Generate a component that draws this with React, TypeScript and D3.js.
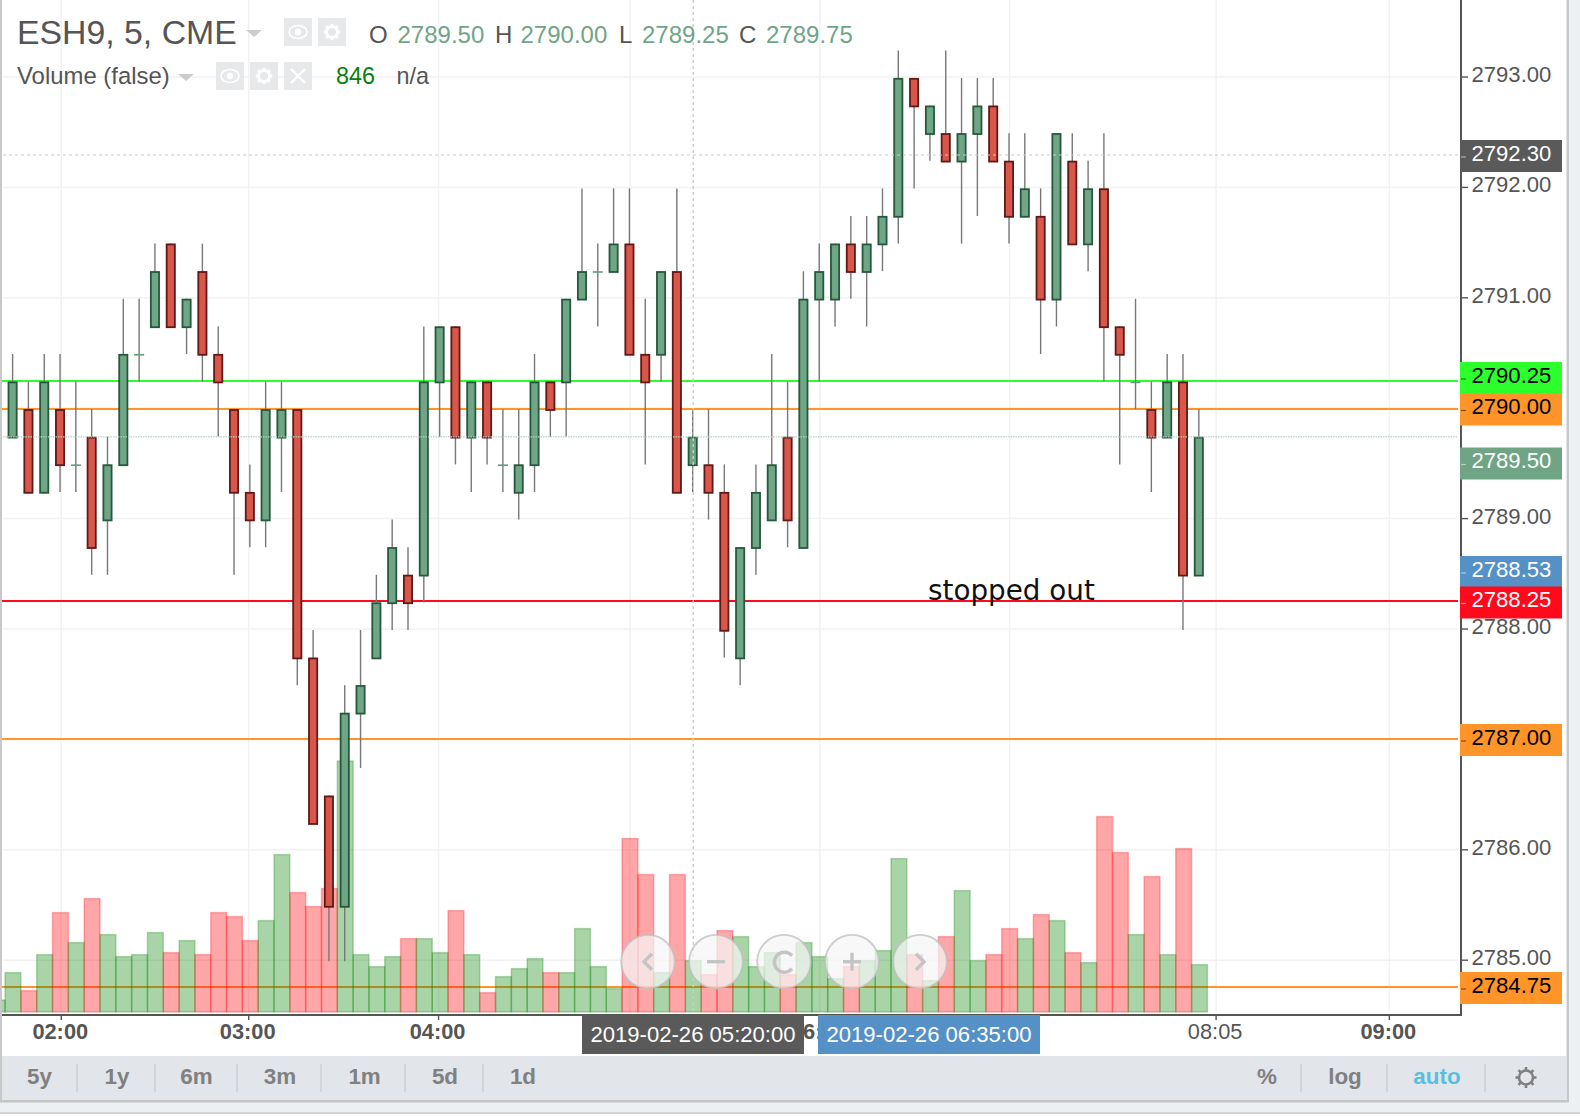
import React from "react";
import * as d3 from "d3";

const opens = [2789.75,2790,2789.25,2790,2789.5,2789.75,2789,2789.5,2790.5,2790.75,2791.5,2790.75,2791.25,2790.5,2790,2789.25,2789,2789.75,2790,2787.75,2786.5,2785.5,2787.25,2787.75,2788.25,2788.5,2788.5,2790.25,2790.75,2789.75,2790.25,2789.5,2789.25,2789.5,2790.25,2790.25,2791,2791.25,2791.25,2791.5,2790.5,2790.5,2791.25,2789.5,2789.5,2789.25,2787.75,2788.75,2789,2789.75,2788.75,2791,2791,2791.5,2791.25,2791.5,2791.75,2793,2792.5,2792.5,2792.25,2792.5,2792.75,2792.25,2791.75,2791.75,2791,2792.25,2791.5,2792,2790.75,2790.25,2790,2789.75,2790.25,2788.5];
const highs = [2790.5,2790.25,2790.5,2790.5,2790.25,2790,2789.75,2791,2791,2791.5,2791.5,2791,2791.5,2790.75,2790,2789.5,2790.25,2790.25,2790,2788,2786.5,2787.5,2788,2788.5,2789,2788.75,2790.75,2790.75,2790.75,2790.25,2790.25,2790,2790,2790.5,2790.25,2791,2792,2791.5,2792,2792,2791,2791.25,2792,2790,2790,2789.5,2788.75,2789.5,2790.5,2790.25,2791.25,2791.5,2791.5,2791.75,2791.75,2792,2793.25,2793,2792.75,2793.25,2793,2793,2793,2792.5,2792.5,2792,2792.5,2792.5,2792.25,2792.5,2790.75,2791,2790.25,2790.5,2790.5,2790];
const lows = [2789.75,2789.25,2789.25,2789.25,2789.25,2788.5,2788.5,2789.5,2790.25,2790.75,2790.75,2790.5,2790.25,2789.75,2788.5,2788.75,2788.75,2789.25,2787.5,2786.25,2785,2785,2786.75,2787.75,2788,2788,2788.25,2789.75,2789.5,2789.25,2789.5,2789.25,2789,2789.25,2789.75,2789.75,2791,2790.75,2791.25,2790.5,2789.5,2790.25,2789.25,2789.25,2789,2787.75,2787.5,2788.5,2789,2788.75,2788.75,2790.25,2790.75,2791,2790.75,2791.25,2791.5,2792,2792.25,2792.25,2791.5,2791.75,2792.25,2791.5,2791.75,2790.5,2790.75,2791.5,2791.25,2790.25,2789.5,2790,2789.25,2789.75,2788,2788.5];
const closes = [2790.25,2789.25,2790.25,2789.5,2789.5,2788.75,2789.5,2790.5,2790.5,2791.25,2790.75,2791,2790.5,2790.25,2789.25,2789,2790,2790,2787.75,2786.25,2785.5,2787.25,2787.5,2788.25,2788.75,2788.25,2790.25,2790.75,2789.75,2790.25,2789.75,2789.5,2789.5,2790.25,2790,2791,2791.25,2791.25,2791.5,2790.5,2790.25,2791.25,2789.25,2789.75,2789.25,2788,2788.75,2789.25,2789.5,2789,2791,2791.25,2791.5,2791.25,2791.5,2791.75,2793,2792.75,2792.75,2792.25,2792.5,2792.75,2792.25,2791.75,2792,2791,2792.5,2791.5,2792,2790.75,2790.5,2790.25,2789.75,2790.25,2788.5,2789.75];
const volumes = [649,352,946,1639,1144,1870,1276,913,946,1309,979,1177,946,1639,1573,1177,1507,2596,1969,1738,2035,4140,946,748,913,1210,1210,979,1672,946,319,583,715,880,649,649,1375,748,385,2860,2266,649,2266,846,616,1342,1243,748,979,616,1144,913,550,748,847,1012,2530,946,517,1243,2002,847,946,1375,1210,1606,1507,979,814,3223,2629,1276,2233,946,2695,781];
const previousVolume = 198;

const priceTicks = [2793, 2792, 2791, 2790, 2789, 2788, 2787, 2786, 2785];
const plainPriceTicks = [2793, 2792, 2791, 2789, 2788, 2786, 2785];
const timeTickBars = [3.05, 14.9, 26.9, 39, 51, 63, 76.05, 87];
const timeTickLabels = ["02:00", "03:00", "04:00", "", "06:00", "", "08:05", "09:00"];
const levelPrices = [2790.25, 2790, 2788.25, 2787, 2784.75];
const levelColors = ["#2cff2c", "#ff9528", "#ff0a1c", "#ff9528", "#ff9528"];

const priceBadges = [
  { text: "2792.30", mid: 156, bg: "#5a5a5a", fg: "#fff" },
  { text: "2790.25", mid: 378, bg: "#2cff2c", fg: "#000" },
  { text: "2790.00", mid: 409.5, bg: "#ff9528", fg: "#000" },
  { text: "2789.50", mid: 463.5, bg: "#6fa585", fg: "#fff" },
  { text: "2788.53", mid: 572, bg: "#5591c6", fg: "#fff" },
  { text: "2788.25", mid: 602.5, bg: "#ff0a1c", fg: "#fff" },
  { text: "2787.00", mid: 740, bg: "#ff9528", fg: "#000" },
  { text: "2784.75", mid: 988, bg: "#ff9528", fg: "#000" },
];
const rangeLabels = ["5y", "1y", "6m", "3m", "1m", "5d", "1d"];
const rangeCenters = [39.5, 117, 196.5, 280, 364.6, 445, 523];
const rangeSeparators = [77, 155, 237, 321, 405, 483];
const readoutLabels = [
  { t: "O", x: 369, c: "#555" }, { t: "2789.50", x: 397.5, c: "#6fa585" },
  { t: "H", x: 495, c: "#555" }, { t: "2790.00", x: 520.5, c: "#6fa585" },
  { t: "L", x: 619, c: "#555" }, { t: "2789.25", x: 642, c: "#6fa585" },
  { t: "C", x: 739, c: "#555" }, { t: "2789.75", x: 766, c: "#6fa585" },
];

const FONT = '"Liberation Sans", Arial, Helvetica, sans-serif';
const plotLeft = 2, plotRight = 1458, axisX = 1461, axisY = 1015, volBase = 1012;

const x = d3.scaleLinear().domain([0, 75]).range([13, 1199.5]);
const xCandle = d3.scaleLinear().domain([0, 75]).range([12.6, 1198.8]);
const y = d3.scaleLinear().domain([2793, 2788]).range([77, 629]);
const yLevel = d3.scaleLinear().domain([2790.25, 2784.75]).range([381, 987]);
const yWick = d3.scaleLinear().domain([2793, 2788]).range([78, 630]);
const yBody = d3.scaleLinear().domain([2793, 2788]).range([78.8, 630.8]);
const yVol = d3.scaleLinear().domain([0, 846]).range([volBase, volBase - 51.3]);
const step = x(1) - x(0);

function Gear({ cx, cy, r, color, sw }: { cx: number; cy: number; r: number; color: string; sw: number }) {
  const angles = d3.range(8).map((k) => (k * Math.PI) / 4);
  return (
    <g>
      {angles.map((a, k) => (
        <line key={k} x1={cx + Math.cos(a) * r} y1={cy + Math.sin(a) * r} x2={cx + Math.cos(a) * (r * 1.5)} y2={cy + Math.sin(a) * (r * 1.5)} stroke={color} strokeWidth={sw} />
      ))}
      <circle cx={cx} cy={cy} r={r} fill="none" stroke={color} strokeWidth={sw} />
    </g>
  );
}

function IconBox({ x0, y0, kind }: { x0: number; y0: number; kind: "eye" | "gear" | "x" }) {
  const cx = x0 + 14, cy = y0 + 14;
  return (
    <g>
      <rect x={x0} y={y0} width={28} height={28} fill="#e6e8ea" />
      {kind === "eye" && (
        <g>
          <ellipse cx={cx} cy={cy} rx={9} ry={6.5} fill="none" stroke="#fff" strokeWidth={1.6} />
          <circle cx={cx} cy={cy} r={3.2} fill="#fff" />
        </g>
      )}
      {kind === "gear" && <Gear cx={cx} cy={cy} r={5.5} color="#fff" sw={3} />}
      {kind === "x" && (
        <g stroke="#fff" strokeWidth={2.4}>
          <line x1={cx - 7} y1={cy - 7} x2={cx + 7} y2={cy + 7} />
          <line x1={cx + 7} y1={cy - 7} x2={cx - 7} y2={cy + 7} />
        </g>
      )}
    </g>
  );
}

export default function App() {
  const volumeRows = [
    { i: -1, v: previousVolume, up: true },
    ...volumes.map((v, i) => ({ i, v, up: closes[i] >= opens[i] })),
  ];
  const zoomCenters = [648, 716, 784, 852, 920];
  const zoomY = 961.7;
  const glyph = "#c4c4c4";

  return (
    <svg width={1580} height={1116} style={{ position: "absolute", left: 0, top: 0, display: "block" }} fontFamily={FONT}>
      <defs>
        <clipPath id="plot"><rect x={plotLeft} y={0} width={plotRight - plotLeft} height={volBase + 1} /></clipPath>
      </defs>
      <rect width={1580} height={1116} fill="#fff" />

      {/* outer frame */}
      <rect x={1569} y={0} width={11} height={1112} fill="#ecf0f3" />
      <rect x={0} y={1102} width={1580} height={10} fill="#ecf0f3" />
      <rect x={0} y={0} width={2} height={1102} fill="#c8c8c8" />
      <rect x={1566.5} y={0} width={2.5} height={1102} fill="#c8c8c8" />
      <rect x={0} y={1100} width={1569} height={2.5} fill="#c4c4c4" />
      <rect x={0} y={1112} width={1580} height={2} fill="#d4d4d4" />

      {/* grid */}
      <g stroke="#f2f2f2" strokeWidth={1.5}>
        {priceTicks.map((p) => <line key={p} x1={3} x2={plotRight} y1={y(p)} y2={y(p)} />)}
        {timeTickBars.map((b) => <line key={b} x1={x(b)} x2={x(b)} y1={0} y2={volBase} />)}
      </g>

      {/* levels */}
      {levelPrices.map((p, k) => {
        const ly = Math.round(yLevel(p));
        return <line key={p} x1={plotLeft} x2={plotRight} y1={ly} y2={ly} stroke={levelColors[k]} strokeWidth={1.8} />;
      })}

      {/* volume */}
      <g clipPath="url(#plot)">
        {volumeRows.map((d) => (
          <rect key={d.i} x={x(d.i) - step / 2} y={yVol(d.v)} width={step} height={volBase - yVol(d.v)}
            fill={d.up ? "rgba(0,128,0,0.34)" : "rgba(255,0,10,0.35)"}
            stroke={d.up ? "rgba(0,128,0,0.28)" : "rgba(255,0,10,0.28)"} strokeWidth={1.5} />
        ))}
      </g>

      {/* candles */}
      {opens.map((o, i) => {
        const c = closes[i];
        const up = c >= o;
        const doji = c === o;
        const top = yBody(Math.max(o, c));
        const bottom = yBody(Math.min(o, c));
        const cx = xCandle(i);
        return (
          <g key={i}>
            <line x1={cx} x2={cx} y1={yWick(highs[i])} y2={yWick(lows[i])} stroke="#777" strokeWidth={1.4} />
            {doji ? (
              <line x1={cx - 5} x2={cx + 5} y1={top} y2={top} stroke="#5f9c7c" strokeWidth={1.6} />
            ) : (
              <rect x={cx - 4.1} y={top} width={8.2} height={bottom - top}
                fill={up ? "#6fa685" : "#d8564a"} stroke={up ? "#27583e" : "#5e1a17"} strokeWidth={1.8} />
            )}
          </g>
        );
      })}

      {/* crosshair and last price guides */}
      <line x1={3} x2={plotRight} y1={155} y2={155} stroke="#ccc" strokeWidth={1.2} strokeDasharray="3 3" />
      <line x1={3} x2={plotRight} y1={yWick(closes[75])} y2={yWick(closes[75])} stroke="#b7cfc1" strokeWidth={1.2} strokeDasharray="1.5 1" />
      <line x1={x(43)} x2={x(43)} y1={0} y2={volBase} stroke="#ccc" strokeWidth={1.4} strokeDasharray="3 3" />

      {/* annotation */}
      <text x={928} y={599.5} fontFamily='"DejaVu Sans", Verdana, sans-serif' fontSize={27.8} fill="#111">stopped out</text>

      {/* zoom buttons */}
      {zoomCenters.map((cx) => (
        <circle key={cx} cx={cx} cy={zoomY} r={26.8} fill="rgba(245,245,245,0.72)" stroke="rgba(190,190,190,0.75)" strokeWidth={1.8} />
      ))}
      <g fill="none" stroke={glyph} strokeWidth={3.4}>
        <polyline points={`${zoomCenters[0] + 4},${zoomY - 8} ${zoomCenters[0] - 4},${zoomY} ${zoomCenters[0] + 4},${zoomY + 8}`} />
        <line x1={zoomCenters[1] - 9} x2={zoomCenters[1] + 9} y1={zoomY} y2={zoomY} />
        <path d={`M${zoomCenters[2] + 8},${zoomY - 6} A10,10 0 1 0 ${zoomCenters[2] + 8},${zoomY + 7}`} />
        <line x1={zoomCenters[3] - 9} x2={zoomCenters[3] + 9} y1={zoomY} y2={zoomY} />
        <line x1={zoomCenters[3]} x2={zoomCenters[3]} y1={zoomY - 9} y2={zoomY + 9} />
        <polyline points={`${zoomCenters[4] - 4},${zoomY - 8} ${zoomCenters[4] + 4},${zoomY} ${zoomCenters[4] - 4},${zoomY + 8}`} />
      </g>

      {/* axes */}
      <line x1={axisX} x2={axisX} y1={0} y2={axisY + 1} stroke="#555" strokeWidth={2} />
      <line x1={2} x2={axisX} y1={axisY} y2={axisY} stroke="#555" strokeWidth={2} />
      {plainPriceTicks.map((p) => (
        <g key={p}>
          <line x1={axisX} x2={axisX + 7} y1={y(p)} y2={y(p)} stroke="#555" strokeWidth={1.4} />
          <text x={1471.5} y={y(p) + 5} fontSize={22.1} fill="#555">{p.toFixed(2)}</text>
        </g>
      ))}
      {timeTickBars.map((b, k) => (
        <g key={b}>
          <line x1={x(b)} x2={x(b)} y1={axisY} y2={axisY + 5} stroke="#555" strokeWidth={1.4} />
          {timeTickLabels[k] && (
            <text x={x(b) - 1} y={1038.5} textAnchor="middle" fontSize={21.8}
              fontWeight={timeTickLabels[k] === "08:05" ? 400 : 700} fill="#555">{timeTickLabels[k]}</text>
          )}
        </g>
      ))}

      {/* price badges */}
      {priceBadges.map((b) => (
        <g key={b.text}>
          <rect x={1460} y={b.mid - 16} width={102} height={32} fill={b.bg} />
          <line x1={1461} x2={1466} y1={b.mid + 1} y2={b.mid + 1} stroke={b.fg} strokeOpacity={0.5} strokeWidth={1.2} />
          <text x={1471.5} y={b.mid + 4.6} fontSize={22.1} fill={b.fg}>{b.text}</text>
        </g>
      ))}

      {/* crosshair time badges */}
      <rect x={582} y={1015} width={222} height={39} fill="#5a5a5a" />
      <text x={693} y={1042} textAnchor="middle" fontSize={22.1} fill="#fff">2019-02-26 05:20:00</text>
      <rect x={818} y={1015} width={222} height={39} fill="#5591c6" />
      <text x={929} y={1042} textAnchor="middle" fontSize={22.1} fill="#fff">2019-02-26 06:35:00</text>

      {/* header */}
      <text x={17} y={43.5} fontSize={33.8} fill="#555">ESH9, 5, CME</text>
      <path d="M246,30 L262,30 L254,37 Z" fill="#ccc" />
      <IconBox x0={284} y0={18} kind="eye" />
      <IconBox x0={318} y0={18} kind="gear" />
      {readoutLabels.map((r) => (
        <text key={r.t} x={r.x} y={43.3} fontSize={24} fill={r.c}>{r.t}</text>
      ))}
      <text x={17} y={83.5} fontSize={23.9} fill="#555">Volume (false)</text>
      <path d="M178,74 L194,74 L186,81 Z" fill="#ccc" />
      <IconBox x0={216} y0={62} kind="eye" />
      <IconBox x0={250} y0={62} kind="gear" />
      <IconBox x0={284} y0={62} kind="x" />
      <text x={336} y={83.5} fontSize={23.4} fill="#0a800a">846</text>
      <text x={396.5} y={83.5} fontSize={23.4} fill="#555">n/a</text>

      {/* bottom toolbar */}
      <rect x={2} y={1056} width={1564.5} height={44} fill="#e2e5ea" />
      <g stroke="#cdd0d5" strokeWidth={1.5}>
        {[...rangeSeparators, 1301, 1387, 1485].map((s) => <line key={s} x1={s} x2={s} y1={1064} y2={1092} />)}
      </g>
      <g fontSize={22.4} fontWeight={700} fill="#808080" textAnchor="middle">
        {rangeLabels.map((l, k) => <text key={l} x={rangeCenters[k]} y={1083.7}>{l}</text>)}
        <text x={1267} y={1083.7}>%</text>
        <text x={1345} y={1083.7}>log</text>
        <text x={1437} y={1083.7} fill="#59bfe0">auto</text>
      </g>
      <Gear cx={1526} cy={1077.5} r={7} color="#808080" sw={2.6} />
    </svg>
  );
}
